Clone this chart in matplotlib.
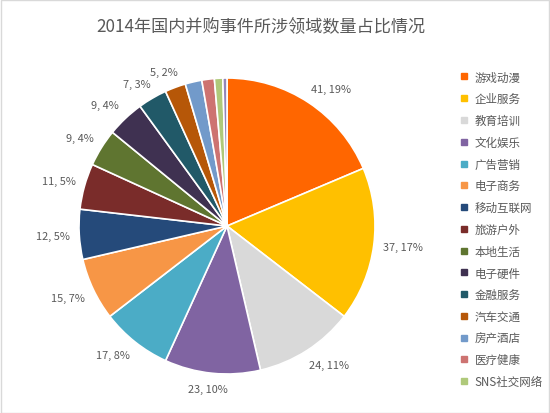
import numpy as np
import matplotlib
matplotlib.use("Agg")
import matplotlib.pyplot as plt
from matplotlib.lines import Line2D
from matplotlib.patches import Rectangle

plt.rcParams['font.family'] = ['Noto Sans CJK SC', 'DejaVu Sans']

# data (last slice has no legend entry / label in the original)
categories = ["游戏动漫", "企业服务", "教育培训", "文化娱乐", "广告营销", "电子商务",
              "移动互联网", "旅游户外", "本地生活", "电子硬件", "金融服务", "汽车交通",
              "房产酒店", "医疗健康", "SNS社交网络", "其他"]
counts = [41, 37, 24, 23, 17, 15, 12, 11, 9, 9, 7, 5, 4, 3, 2, 1]
pct_labels = [19, 17, 11, 10, 8, 7, 5, 5, 4, 4, 3, 2]
colors = ["#FF6600", "#FFC000", "#D9D9D9", "#8064A2", "#4BACC6", "#F79646",
          "#254A7A", "#7A2C2A", "#5F7530", "#3F3151", "#215968", "#B65708",
          "#729ACA", "#CD7371", "#AFC97A", "#9385B8"]
n_legend = 15

W, H = 550, 414
R = 152.0  # pie radius in px
fig = plt.figure(figsize=(W / 100, H / 100), dpi=100)
fig.patches.append(Rectangle((0.001, 0.001), 0.998, 0.997, transform=fig.transFigure,
                             fill=False, edgecolor="#D9D9D9", linewidth=1))

# axes in px units so that radius 1 == R px
cx, cy = 227, H - 227
ax = fig.add_axes([(cx - 200) / W, (cy - 185) / H, 400 / W, 370 / H])
ax.set_xlim(-200 / R, 200 / R)
ax.set_ylim(-185 / R, 185 / R)
ax.set_aspect("equal")
ax.axis("off")

wedges, _ = ax.pie(counts, colors=colors, startangle=90, counterclock=False,
                   radius=1, wedgeprops=dict(edgecolor="white", linewidth=1.2))

# data labels just outside the slice ends (box pushed off the anchor point)
total = sum(counts)
cum = np.cumsum([0] + counts)
renderer = fig.canvas.get_renderer()
for i, p in enumerate(pct_labels):
    mid = (cum[i] + counts[i] / 2) / total * 2 * np.pi
    ux, uy = np.sin(mid), np.cos(mid)
    t = ax.text(0, 0, f"{counts[i]}, {p}%", ha="center", va="center", fontsize=7.9,
                color="#595959", clip_on=False)
    w = t.get_window_extent(renderer).width / R
    h = 12 / R
    r = 1 + 10 / R
    x = r * ux + w / 2 * np.clip(1.6 * ux, -1, 1)
    y = r * uy + h / 2 * np.clip(1.6 * uy, -1, 1)
    t.set_position((x, y))

fig.text(261 / W, 1 - 26 / H, "2014年国内并购事件所涉领域数量占比情况", ha="center",
         va="center", fontsize=12.3, color="#595959")

handles = [Line2D([], [], marker="s", linestyle="none", markersize=5,
                  markerfacecolor=colors[i], markeredgecolor=colors[i])
           for i in range(n_legend)]
leg = fig.legend(handles, categories[:n_legend], loc="upper left",
                 bbox_to_anchor=(459 / W, 1 - 71.5 / H), frameon=False,
                 fontsize=8.3, labelcolor="#595959", handlelength=0.8,
                 handletextpad=0.55, labelspacing=0.76, borderpad=0, borderaxespad=0)

fig.savefig("out.png", dpi=100)
